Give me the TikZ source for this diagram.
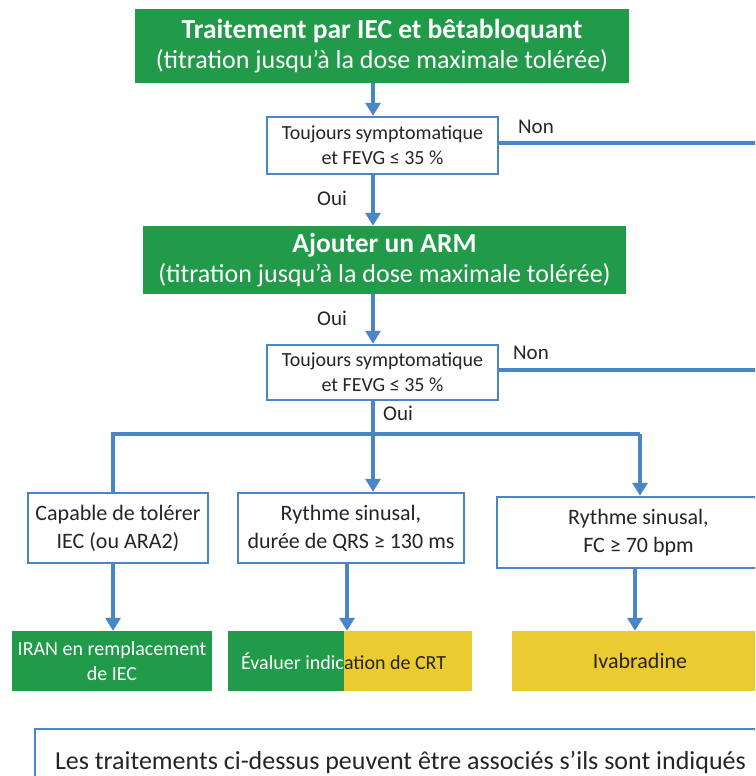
\documentclass[tikz,border=0pt]{standalone}
\usepackage{fontspec}
\setmainfont{Carlito}
\usetikzlibrary{arrows.meta}
\definecolor{bgreen}{RGB}{33,154,74}
\definecolor{byellow}{RGB}{234,204,48}
\definecolor{bblue}{RGB}{74,134,198}
\definecolor{dtext}{RGB}{40,36,37}
\newcommand{\ttl}[1]{{\fontsize{27.5}{30}\selectfont\bfseries #1}}
\begin{document}
\begin{tikzpicture}[x=1pt,y=-1pt,
  greenbox/.style={fill=bgreen,text=white,align=center,inner sep=0pt,font=\fontsize{26}{30}\selectfont},
  condbox/.style={draw=bblue,line width=2.5pt,fill=white,text=dtext,align=center,inner sep=0pt},
  smallcond/.style={condbox,font=\fontsize{20}{25}\selectfont},
  bigcond/.style={condbox,font=\fontsize{22}{28}\selectfont},
  resg/.style={fill=bgreen,text=white,align=center,inner sep=0pt,font=\fontsize{20}{25}\selectfont},
  resy/.style={fill=byellow,text=dtext,align=center,inner sep=0pt,font=\fontsize{22}{25}\selectfont},
  lbl/.style={text=dtext,inner sep=0pt,font=\fontsize{21}{24}\selectfont},
  arr/.style={draw=bblue,line width=4.5pt,-{Triangle[width=15pt,length=13pt]}},
  ln/.style={draw=bblue,line width=3.5pt},
]
\useasboundingbox (0,0) rectangle (755,776);
\clip (0,0) rectangle (755,776);
\fill[white] (0,0) rectangle (755,776);

\coordinate (cx) at (373,0);

\node[greenbox,minimum width=494pt,minimum height=74pt] (top) at (382,46)
  {\ttl{Traitement par IEC et bêtabloquant}\\(titration jusqu’à la dose maximale tolérée)};
\node[smallcond,minimum width=231pt,minimum height=57pt] (d1) at (382.5,145.5)
  {Toujours symptomatique\\et FEVG ≤ 35 \%};
\node[greenbox,minimum width=483pt,minimum height=68pt] (arm) at (384.5,260)
  {\ttl{Ajouter un ARM}\\(titration jusqu’à la dose maximale tolérée)};
\node[smallcond,minimum width=231pt,minimum height=55pt] (d2) at (382.5,372.5)
  {Toujours symptomatique\\et FEVG ≤ 35 \%};

\node[bigcond,minimum width=180pt,minimum height=70pt] (bl) at (118,528)
  {Capable de tolérer\\IEC (ou ARA2)};
\node[bigcond,minimum width=226pt,minimum height=70pt] (bm) at (351,528)
  {Rythme sinusal,\\durée de QRS ≥ 130 ms};
\node[bigcond,minimum width=283pt,minimum height=71pt] (br) at (638.5,532.5)
  {Rythme sinusal,\\FC ≥ 70 bpm};

\node[resg,minimum width=200pt,minimum height=60pt] (iran) at (112,661)
  {IRAN en remplacement\\de IEC};
\node[fill=bgreen,inner sep=0pt,minimum width=116pt,minimum height=60pt] (evalg) at (286,661) {};
\node[fill=byellow,inner sep=0pt,minimum width=128pt,minimum height=60pt] (evaly) at (408,661) {};
\node[inner sep=0pt,font=\fontsize{20}{24}\selectfont] (evalt) at (344,661)
  {\llap{\textcolor{white}{Évaluer indic}}\rlap{\textcolor{dtext}{ation de CRT}}};
\node[resy,minimum width=256pt,minimum height=60pt] (iva) at (640,661) {Ivabradine};

\node[draw=bblue,line width=2.5pt,fill=white,text=dtext,inner sep=0pt,
  minimum width=765pt,minimum height=66pt,font=\fontsize{26}{30}\selectfont] (note) at (417.5,762)
  {\makebox[725pt][l]{Les traitements ci-dessus peuvent être associés s’ils sont indiqués}};

% connectors
\draw[arr] (top.south -| cx) -- (d1.north -| cx);
\draw[arr] (d1.south -| cx) -- (arm.north -| cx);
\draw[arr] (arm.south -| cx) -- (d2.north -| cx);
\coordinate (e1) at (760,143);
\coordinate (e2) at (760,370);
\draw[ln] (d1.east |- e1) -- (e1);
\draw[ln] (d2.east |- e2) -- (e2);
\node[lbl] (non1) at (536,127) {Non};
\node[lbl] (oui1) at (332,198) {Oui};
\node[lbl] (oui2) at (332,318) {Oui};
\node[lbl] (non2) at (531,353) {Non};
\node[lbl] (oui3) at (398,413) {Oui};

\coordinate (bj) at (373,434);
\coordinate (bxl) at (113,434);
\coordinate (bxr) at (640,434);
\draw[ln,line width=4.5pt] (d2.south -| cx) -- (bj);
\draw[ln] (bxl |- bl.north) -- (bxl) -- (bxr);
\draw[arr,line width=3.5pt] (bj) -- (bm.north -| bj);
\draw[arr,line width=3.5pt] (bxr) -- (br.north -| bxr);

\coordinate (a1) at (113,0);
\coordinate (a2) at (347,0);
\coordinate (a3) at (635,0);
\draw[arr,line width=3.5pt] (bl.south -| a1) -- (iran.north -| a1);
\draw[arr,line width=3.5pt] (bm.south -| a2) -- (evalg.north -| a2);
\draw[arr,line width=3.5pt] (br.south -| a3) -- (iva.north -| a3);
\end{tikzpicture}
\end{document}
